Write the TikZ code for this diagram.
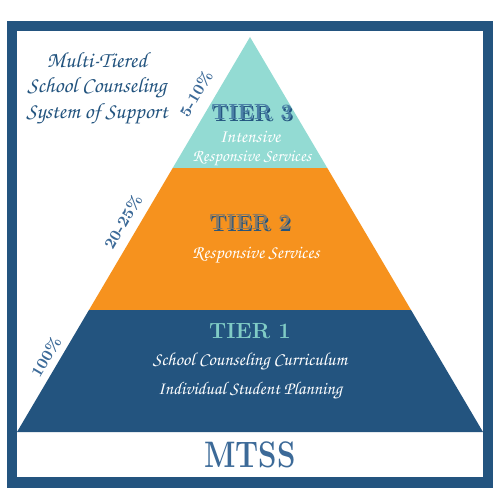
\documentclass[tikz,border=0pt]{standalone}
\usepackage{fontspec}
\newfontfamily\handfont{texgyrechorus-mediumitalic.otf}
\usetikzlibrary{calc, positioning}

\definecolor{navy}{HTML}{23547F}
\definecolor{mint}{HTML}{93DBD3}
\definecolor{amber}{HTML}{F6921E}
\definecolor{inkblue}{HTML}{3C6A98}
\definecolor{tealtxt}{HTML}{80CCC6}
\definecolor{tantxt}{HTML}{8C7A62}
\definecolor{steel}{HTML}{4A7FA6}

% engraved label with a small offset shadow
\newcommand{\engraved}[3]{%
  \makebox[0pt][l]{\hspace{0.7pt}\raisebox{-0.7pt}{\color{#2}#1}}{\color{#3}#1}}

\begin{document}
\begin{tikzpicture}[
    x=0.02cm, y=-0.02cm,
    cursive/.style={
        font=\handfont\fontsize{10.5}{12.5}\selectfont,
        text=white,
        inner sep=0pt
    },
    tierlabel/.style={
        font=\bfseries\fontsize{12.5}{14}\selectfont,
        inner sep=0pt
    },
    share/.style={
        font=\bfseries\fontsize{9}{10}\selectfont,
        text=inkblue,
        rotate=59.5,
        inner sep=0pt
    }
]

\useasboundingbox (0,0) rectangle (500,500);

% frame
\fill[navy] (7,21) rectangle (493,488);
\fill[white] (17,31) rectangle (483,477);

% pyramid
\coordinate (apex) at (250,37);
\coordinate (bl) at (17,432);
\coordinate (br) at (483,432);
\coordinate (l3) at ($(apex)!0.3316!(bl)$);
\coordinate (r3) at ($(apex)!0.3316!(br)$);
\coordinate (l2) at ($(apex)!0.6911!(bl)$);
\coordinate (r2) at ($(apex)!0.6911!(br)$);

\fill[navy] (l2) -- (r2) -- (br) -- (bl) -- cycle;
\fill[amber] (l3) -- (r3) -- (r2) -- (l2) -- cycle;
\fill[mint] (apex) -- (r3) -- (l3) -- cycle;

% title
\node[cursive, text=navy, align=center,
      font=\handfont\fontsize{12.5}{14.5}\selectfont] (title) at (97,88)
{Multi-Tiered\\School Counseling\\System of Support};

% tier 3
\node[tierlabel] (tier3) at (252,113) {\engraved{TIER 3}{navy}{steel}};
\node[cursive] (intensive) at (250,137) {Intensive};
\node[cursive, font=\handfont\fontsize{9.8}{12}\selectfont] (resp3) at (252,158)
{Responsive Services};

% tier 2
\node[tierlabel] (tier2) at (250,223) {\engraved{TIER 2}{navy}{tantxt}};
\node[cursive] (resp2) at (256,255) {Responsive Services};

% tier 1
\node[tierlabel, text=tealtxt] (tier1) at (250,331) {TIER 1};
\node[cursive] (curriculum) at (250,362) {School Counseling Curriculum};
\node[cursive, font=\handfont\fontsize{10.3}{12.5}\selectfont] (planning) at (250,391)
{Individual Student Planning};

% base
\node[tierlabel, text=inkblue] (mtss) at (250,455)
{\scalebox{0.8}[1]{\fontsize{21}{23}\selectfont MTSS}};

% shares
\node[share] (pct3) at (196,94) {5-10\%};
\node[share] (pct2) at (123,222) {20-25\%};
\node[share] (pct1) at (46,357) {100\%};

\end{tikzpicture}
\end{document}
